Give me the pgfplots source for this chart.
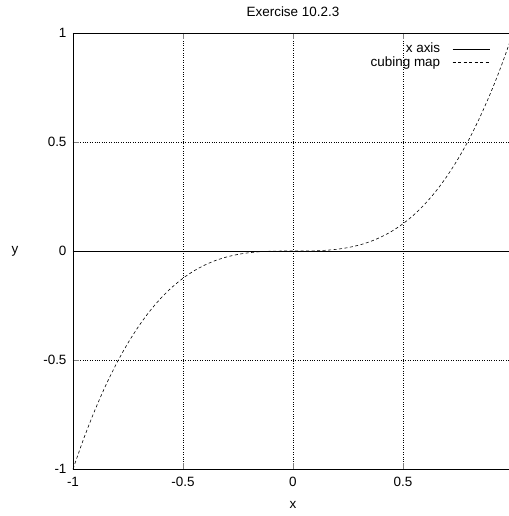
\documentclass[border=0pt]{standalone}
\usepackage{fontspec}
\setmainfont{Liberation Sans}
\usepackage{pgfplots}
\pgfplotsset{compat=1.18}
\begin{document}
\begin{tikzpicture}[font=\fontsize{13.5}{16}\selectfont]
  \useasboundingbox (-73bp,-47bp) rectangle (436bp,469bp);
  \begin{axis}[
    scale only axis,
    width=436bp, height=436bp,
    xmin=-1, xmax=0.982,
    ymin=-1, ymax=1,
    axis x line*=box,
    axis y line*=left,
    tick align=inside,
    major tick length=6bp,
    xtick={-1,-0.5,0,0.5},
    ytick={-1,-0.5,0,0.5,1},
    grid=major,
    major grid style={black, dotted, line width=0.5pt},
    axis line style={black, line width=0.9pt},
    /pgf/number format/assume math mode=true,
    xticklabel style={yshift=-5bp},
    yticklabel style={xshift=-3bp},
    title={Exercise 10.2.3},
    every axis title/.style={at={(axis cs:0,1)}, anchor=center, yshift=21bp},
    xlabel={x},
    every axis x label/.style={at={(axis cs:0,-1)}, anchor=center, yshift=-36bp},
    ylabel={y},
    every axis y label/.style={at={(axis description cs:0,0.5)}, anchor=center, xshift=-58bp},
    legend style={draw=none, fill=none, at={(1,1)}, anchor=north east,
      xshift=-19bp, yshift=-8bp, row sep=-2bp, inner sep=0pt,
      nodes={inner sep=2bp}},
    legend cell align=right,
    legend plot pos=right,
    legend image code/.code={\path (0bp,0bp); \draw[#1] (10bp,0bp) -- (47bp,0bp);},
  ]
    \addplot[black, line width=0.6pt] coordinates {(-1,0) (1,0)};
    \addlegendentry{x axis}
    \addplot[black, line width=0.6pt, dash pattern=on 3bp off 2.5bp, smooth] coordinates {
      (-1,-1) (-0.95,-0.857375) (-0.9,-0.729) (-0.85,-0.614125) (-0.8,-0.512)
      (-0.75,-0.421875) (-0.7,-0.343) (-0.65,-0.274625) (-0.6,-0.216)
      (-0.55,-0.166375) (-0.5,-0.125) (-0.45,-0.091125) (-0.4,-0.064)
      (-0.35,-0.042875) (-0.3,-0.027) (-0.25,-0.015625) (-0.2,-0.008)
      (-0.15,-0.003375) (-0.1,-0.001) (-0.05,-0.000125) (0,0)
      (0.05,0.000125) (0.1,0.001) (0.15,0.003375) (0.2,0.008) (0.25,0.015625)
      (0.3,0.027) (0.35,0.042875) (0.4,0.064) (0.45,0.091125) (0.5,0.125)
      (0.55,0.166375) (0.6,0.216) (0.65,0.274625) (0.7,0.343) (0.75,0.421875)
      (0.8,0.512) (0.85,0.614125) (0.9,0.729) (0.95,0.857375) (1,1)
    };
    \addlegendentry{cubing map}
  \end{axis}
\end{tikzpicture}
\end{document}
